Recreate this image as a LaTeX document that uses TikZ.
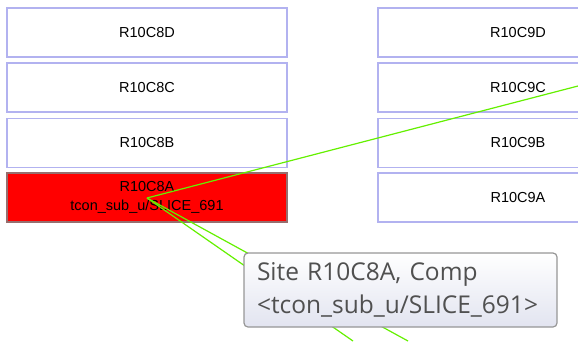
\documentclass[tikz,border=0pt]{standalone}
\usepackage{fontspec}
\setmainfont{Liberation Sans}
\newfontfamily\tipfont{Open Sans}
\usetikzlibrary{positioning,calc}
\definecolor{siteedge}{RGB}{178,178,240}
\definecolor{usededge}{RGB}{150,110,110}
\definecolor{netgreen}{RGB}{100,240,0}
\definecolor{tipedge}{RGB}{150,150,150}
\definecolor{tipbottom}{RGB}{226,228,240}
\definecolor{tiptext}{RGB}{80,80,80}
\tikzset{
  site/.style={draw=siteedge,line width=1.6pt,fill=white,minimum width=280pt,
    minimum height=49pt,inner sep=0pt,align=center,
    font=\fontsize{14.5}{19}\selectfont},
  used/.style={site,draw=usededge,fill=red},
  net/.style={draw=netgreen,line width=1.2pt},
  hint/.style={draw=tipedge,line width=1.2pt,rounded corners=4pt,
    top color=white,bottom color=tipbottom,text=tiptext,
    minimum height=74pt,text width=287pt,inner xsep=13pt,align=left,
    font=\tipfont\fontsize{24.5}{33}\selectfont}
}

\begin{document}
\begin{tikzpicture}[x=1pt,y=-1pt]

\useasboundingbox (0,0) rectangle (578,341);
\clip (0,0) rectangle (578,341);

\foreach \row/\y in {D/32.5,C/87.5,B/143}{
  \node[site] (c8\row) at (147,\y) {R10C8\row};
  \node[site] (c9\row) at (518,\y) {R10C9\row};
}
\node[used] (c8A) at (147,197.5) {R10C8A\\tcon\_sub\_u/SLICE\_691};
\node[site] (c9A) at (518,197.5) {R10C9A};

\coordinate (pin) at (147,198);
\coordinate (eastend) at (578,86);
\coordinate (southa) at (353,341);
\coordinate (southb) at (408,341);

\draw[net] (pin) -- (eastend);
\draw[net] (pin) -- (southa);
\draw[net] (pin) -- (southb);

\node[hint] (tip) at (400.5,290) {Site R10C8A, Comp\\<tcon\_sub\_u/SLICE\_691>};

\end{tikzpicture}
\end{document}
